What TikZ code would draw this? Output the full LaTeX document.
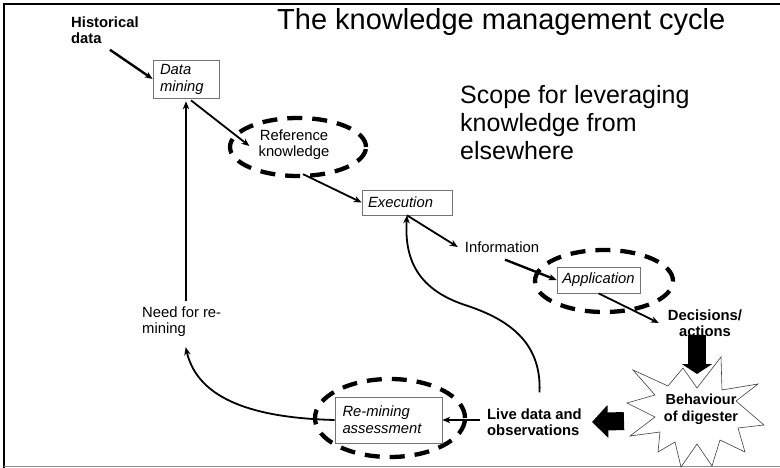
\documentclass[tikz,border=0pt]{standalone}
\usepackage{fontspec}
\setmainfont{Liberation Sans}
\usetikzlibrary{arrows.meta,calc,shapes.geometric}
\begin{document}
\begin{tikzpicture}[x=1pt,y=-1pt,
  txt/.style={inner sep=1pt, font=\fontsize{14.8}{16}\selectfont},
  btxt/.style={inner sep=1pt, font=\fontsize{14.8}{16}\selectfont\bfseries},
  box/.style={draw=black!55, line width=0.7pt, inner sep=0pt, font=\fontsize{14.8}{17}\selectfont\itshape},
  dashell/.style={ellipse, draw, line width=4.3pt, dash pattern=on 15pt off 10pt, inner sep=0pt},
  arr/.style={-{Stealth[length=8pt,width=6.5pt]}, line width=1.8pt},
  blk/.style={line width=18pt},
  starline/.style={draw=black!75, line width=0.6pt, line join=miter}
]
\useasboundingbox (0,0) rectangle (780,468);
% frame
\draw[line width=1.1pt] (4,468) -- (4,4) -- (780,4);
\draw[black!45, line width=0.8pt] (4,466.5) -- (780,466.5);

% texts
\node[anchor=base west, inner sep=0pt, font=\fontsize{29}{32}\selectfont] (title) at (277,30) {The knowledge management cycle};
\node[anchor=north west, align=left, inner sep=0pt, font=\fontsize{25}{28}\selectfont] (scope) at (460,85) {Scope for leveraging\\knowledge from\\elsewhere};
\node[btxt, anchor=north west, align=left] (hist) at (70,15.5) {Historical\\data};

% boxes and ellipses
\node[box, minimum width=66, minimum height=38, text width=52, align=left] (dm) at (186,79) {Data\\mining};
\node[dashell, minimum width=136, minimum height=58] (refell) at (298,147) {};
\node[txt, align=center] (ref) at (294,145) {Reference\\knowledge};
\node[box, minimum width=90, minimum height=25, text width=78, align=left] (exec) at (407,202.5) {Execution};
\node[txt] (info) at (502,247) {Information};
\node[dashell, minimum width=138, minimum height=62] (appell) at (604,281) {};
\node[box, minimum width=83, minimum height=26] (app) at (598.5,280) {Application};
\node[btxt, align=center] (dec) at (705,323) {Decisions/\\actions};
\node[dashell, minimum width=150, minimum height=78] (remell) at (390,418) {};
\node[box, minimum width=107, minimum height=46, text width=92, align=left] (rem) at (388.5,420) {Re-mining\\assessment};
\node[btxt, anchor=west, align=left] (live) at (486,422) {Live data and\\observations};
\node[txt, anchor=north west, align=left] (need) at (141,306) {Need for re-\\mining};

% star
\draw[starline] (683,368) -- (697,388) -- (721,357) -- (722,390) -- (758,384) -- (736,401)
  -- (764,425) -- (738,428) -- (745,452) -- (720,440) -- (712,466) -- (697,444)
  -- (681,467) -- (675,442) -- (658,452) -- (660,432) -- (630,436) -- (655,417)
  -- (627,403) -- (655,395) -- (633,370) -- (668,386) -- cycle;
\node[btxt, align=center, font=\fontsize{14.5}{17}\selectfont\bfseries] (beh) at (701,409) {Behaviour\\of digester};
\coordinate (startop) at (697,374);
\coordinate (starleft) at (624,421);

% connectors
\draw[arr, line width=2.4pt] ($(hist.south)+(5,5)$) -- (dm.west);
\draw[arr] ($(dm.south)+(5,2)$) -- ($(ref.west)+(-8,1)$);
\draw[arr, shorten >=3pt] ($(need.north -| dm.south)+(0,-5)$) -- (dm.south);
\draw[arr] ($(refell.south)+(5,-4)$) -- (exec.west);
\draw[arr] (exec.south) -- ($(info.west)+(-6,0)$);
\draw[arr, line width=2.4pt] ($(info.south)+(3,6)$) -- (app.west);
\draw[arr] (app.south) -- ($(dec.west)+(-8,0)$);
\draw[blk, -{Triangle[length=10pt,width=30pt]}] ($(dec.south)+(-8,-3)$) -- (startop);
\draw[blk, -{Triangle[length=16pt,width=32pt]}] (starleft) -- ($(live.east)+(9,0)$);
\draw[arr] ($(live.west)+(-6,-2)$) -- (rem.east);
\draw[arr] (rem.west) .. controls (255,418) and (198,400) .. ($(need.south)+(4,9)$);
\draw[arr] ($(live.north)+(5,-15)$) .. controls (542,340) and (505,318) .. (465,305)
  .. controls (420,290) and (404,262) .. (exec.south);
\end{tikzpicture}
\end{document}
